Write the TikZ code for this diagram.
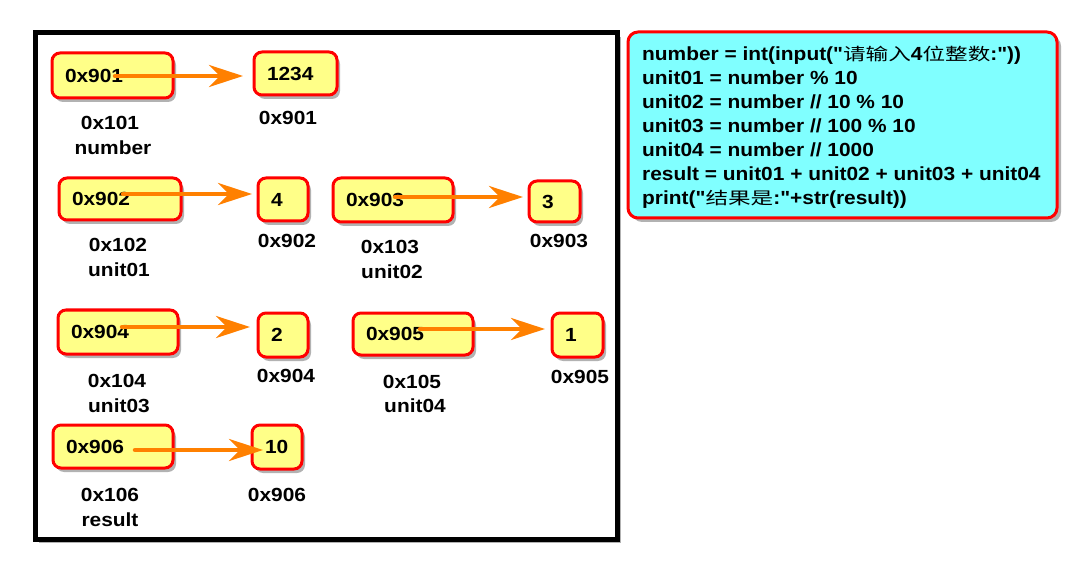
\documentclass[tikz,border=0pt]{standalone}
\usepackage{fontspec}
\usetikzlibrary{arrows.meta,shadows}
\newfontfamily\af[FakeStretch=1.1]{Liberation Sans}
\newfontfamily\cjk[FakeStretch=1.33]{Noto Sans CJK SC}
\newcommand\lab{\af\bfseries\fontsize{19pt}{24pt}\selectfont}
\newcommand\cj[1]{{\cjk\mdseries\fontsize{17pt}{24pt}\selectfont #1}}
\definecolor{redc}{RGB}{255,0,0}
\definecolor{boxy}{RGB}{255,255,136}
\definecolor{cyanc}{RGB}{128,255,255}
\definecolor{orangec}{RGB}{255,128,0}
\tikzset{
  box/.style={draw=redc, line width=3pt, fill=boxy, rounded corners=8pt,
    inner xsep=13pt, inner ysep=0pt, align=left, font=\lab,
    drop shadow={shadow xshift=3pt, shadow yshift=-4pt, opacity=0.3, fill=black}},
  lbl/.style={font=\lab, anchor=base, inner sep=0pt},
  codeline/.style={font=\lab, anchor=base west, inner sep=0pt},
  arr/.style={draw=orangec, line width=4.5pt, line cap=round,
    -{Stealth[length=34pt, width=22pt, inset=11pt]}},
  frame/.style={draw=black, line width=5pt, fill=white,
    drop shadow={shadow xshift=4pt, shadow yshift=-4pt, opacity=0.3, fill=black}},
  codebox/.style={draw=redc, line width=3pt, fill=cyanc, rounded corners=10pt,
    drop shadow={shadow xshift=4pt, shadow yshift=-4pt, opacity=0.3, fill=black}}
}
\begin{document}
\begin{tikzpicture}[x=1pt,y=-1pt]
\useasboundingbox[fill=white] (0,0) rectangle (1076,561);
% frame
\draw[frame] (35,33) rectangle (617,539);
% code box
\draw[codebox] (628,32) rectangle (1057,218);
\node[codeline] (c1) at (642,61) {number = int(input("\cj{请输入}4\cj{位整数}:"))};
\node[codeline] (c2) at (642,85) {unit01 = number \% 10};
\node[codeline] (c3) at (642,109) {unit02 = number // 10 \% 10};
\node[codeline] (c4) at (642,133) {unit03 = number // 100 \% 10};
\node[codeline] (c5) at (642,157) {unit04 = number // 1000};
\node[codeline] (c6) at (642,181) {result = unit01 + unit02 + unit03 + unit04};
\node[codeline] (c7) at (642,205) {print("\cj{结果是}:"+str(result))};
% boxes
\node[box, text width=95pt, minimum height=45pt] (a1) at (112.5,75.5) {0x901};
\node[box, text width=57pt, minimum height=43pt] (b1) at (295.5,73.5) {1234};
\node[box, text width=96pt, minimum height=42pt] (a2) at (120,199) {0x902};
\node[box, text width=24pt, minimum height=43pt] (b2) at (283,199.5) {4};
\node[box, text width=94pt, minimum height=44pt] (a3) at (393,200) {0x903};
\node[box, text width=25pt, minimum height=41pt] (b3) at (554.5,201.5) {3};
\node[box, text width=94pt, minimum height=44pt] (a4) at (118,332) {0x904};
\node[box, text width=24pt, minimum height=44pt] (b4) at (283,335) {2};
\node[box, text width=94pt, minimum height=42pt] (a5) at (413,334) {0x905};
\node[box, text width=25pt, minimum height=44pt] (b5) at (577.5,335) {1};
\node[box, text width=94pt, minimum height=43pt] (a6) at (113,446.5) {0x906};
\node[box, text width=24pt, minimum height=44pt] (b6) at (277,447) {10};
% labels
\node[lbl] (l1a) at (110,130) {0x101};
\node[lbl] (l1b) at (113,155) {number};
\node[lbl] (m1) at (288,125) {0x901};
\node[lbl] (l2a) at (118,252) {0x102};
\node[lbl] (l2b) at (119,277) {unit01};
\node[lbl] (m2) at (287,248) {0x902};
\node[lbl] (l3a) at (390,254) {0x103};
\node[lbl] (l3b) at (392,279) {unit02};
\node[lbl] (m3) at (559,248) {0x903};
\node[lbl] (l4a) at (117,387) {0x104};
\node[lbl] (l4b) at (119,412) {unit03};
\node[lbl] (m4) at (286,382) {0x904};
\node[lbl] (l5a) at (412,388) {0x105};
\node[lbl] (l5b) at (415,412) {unit04};
\node[lbl] (m5) at (580,383) {0x905};
\node[lbl] (l6a) at (110,501) {0x106};
\node[lbl] (l6b) at (110,526) {result};
\node[lbl] (m6) at (277,501) {0x906};
% arrows
\coordinate (s1) at (115,76);  \coordinate (e1) at (243,76);
\coordinate (s2) at (123,194); \coordinate (e2) at (252,194);
\coordinate (s3) at (395,197); \coordinate (e3) at (523,197);
\coordinate (s4) at (122,327); \coordinate (e4) at (250,327);
\coordinate (s5) at (420,329); \coordinate (e5) at (545,329);
\coordinate (s6) at (135,450); \coordinate (e6) at (263,450);
\draw[arr] (s1) -- (e1);
\draw[arr] (s2) -- (e2);
\draw[arr] (s3) -- (e3);
\draw[arr] (s4) -- (e4);
\draw[arr] (s5) -- (e5);
\draw[arr] (s6) -- (e6);
\end{tikzpicture}
\end{document}
